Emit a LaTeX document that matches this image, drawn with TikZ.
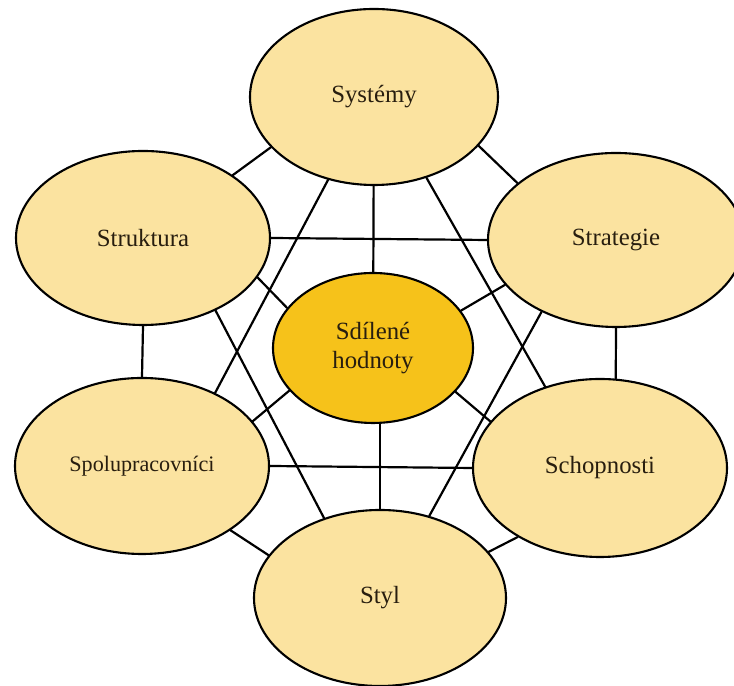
\documentclass[tikz,border=0pt]{standalone}
\usepackage{fontspec}
\setmainfont{Liberation Serif}
\usetikzlibrary{shapes.geometric}
\definecolor{outerfill}{RGB}{251,227,160}
\definecolor{corefill}{RGB}{246,194,26}
\definecolor{labeltext}{RGB}{40,30,15}

\begin{document}
\begin{tikzpicture}[line cap=round,
  sphere/.style={ellipse, draw, line width=1.2pt, fill=outerfill, text=labeltext,
    inner sep=0pt, minimum width=5.08cm, minimum height=3.5cm,
    font=\fontsize{14.1}{16.6}\selectfont, align=center},
  core/.style={sphere, fill=corefill, minimum width=4cm, minimum height=3cm},
  link/.style={line width=1.25pt}
]
\useasboundingbox (0,0) rectangle (14.68,13.72);

%--- Seven elements ---
\node[sphere, minimum width=4.96cm, minimum height=3.52cm] (systemy) at (7.48,11.78) {Systémy};
\node[sphere, minimum height=3.48cm] (struktura) at (2.86,8.96) {Struktura};
\node[sphere, minimum width=5.12cm, minimum height=3.48cm] (strategie) at (12.32,8.92) {Strategie};
\node[sphere, minimum height=3.52cm, font=\fontsize{12.6}{15}\selectfont] (spolu) at (2.84,4.40) {Spolupracovníci};
\node[sphere, minimum height=3.56cm] (schopnosti) at (12.00,4.36) {Schopnosti};
\node[sphere, minimum width=5.04cm, minimum height=3.52cm] (styl) at (7.60,1.76) {Styl};
\node[core] (hodnoty) at (7.46,6.76) {Sdílené\\hodnoty};

%--- Outer ring ---
\draw[link] (struktura.35) -- (systemy.206);
\draw[link] (systemy.-25) -- (strategie.150);
\draw[link] (struktura.south) -- (spolu.north);
\draw[link] (strategie.south) -- (schopnosti.80);
\draw[link] (spolu.-36) -- (styl.159);
\draw[link] (schopnosti.220) -- (styl.23);

%--- Cross links ---
\draw[link] (struktura.east) -- (strategie.west);
\draw[link] (spolu.east) -- (schopnosti.west);
\draw[link] (systemy.241) -- (spolu.45);
\draw[link] (systemy.-57) -- (schopnosti.124);
\draw[link] (struktura.-45) -- (styl.125);
\draw[link] (strategie.224) -- (styl.59);

%--- Links to the core ---
\draw[link] (systemy) -- (hodnoty);
\draw[link] (hodnoty.south -| styl.north) -- (styl.north);
\draw[link] (struktura.-19) -- (hodnoty.155);
\draw[link] (strategie.202) -- (hodnoty.23);
\draw[link] (spolu.22) -- (hodnoty.207);
\draw[link] (hodnoty.-28) -- (schopnosti.157);

\end{tikzpicture}
\end{document}
